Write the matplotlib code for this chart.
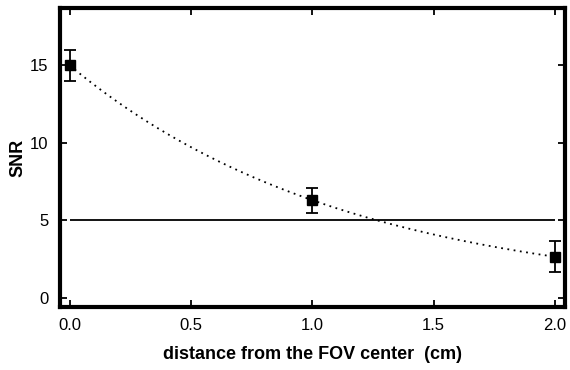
import numpy as np
import matplotlib.pyplot as plt

# measured points
distance = [0.0, 1.0, 2.0]
snr = [15.0, 6.3, 2.65]
snr_err = [1.0, 0.8, 1.0]
threshold = 5
xticks = [0.0, 0.5, 1.0, 1.5, 2.0]
yticks = [0, 5, 10, 15]

plt.rcParams['font.family'] = ['Liberation Sans', 'DejaVu Sans']

fig = plt.figure(figsize=(5.7, 3.7), dpi=100)
ax = fig.add_axes([0.105, 0.17, 0.886, 0.808])

# exponential fit to the points
k, b = np.polyfit(distance, np.log(snr), 1)
xf = np.linspace(0, 2, 200)
ax.plot(xf, np.exp(b + k * xf), color='black', linestyle=(0, (1, 2.5)), linewidth=1.3)

ax.hlines(threshold, 0, 2, color='black', linewidth=1.3)

ax.errorbar(distance, snr, yerr=snr_err, fmt='s', color='black', markersize=6.5,
            capsize=4, elinewidth=1.3, capthick=1.3)

ax.set_xlim(-0.041, 2.041)
ax.set_ylim(-0.6, 18.7)
ax.set_xticks(xticks)
ax.set_xticklabels(['%.1f' % t for t in xticks])
ax.set_yticks(yticks)

for s in ax.spines.values():
    s.set_linewidth(3)
ax.tick_params(direction='in', top=True, right=True, length=5, width=1.3,
               labelsize=12, pad=8)

ax.set_xlabel('distance from the FOV center  (cm)', fontsize=13, fontweight='bold', labelpad=9)
ax.set_ylabel('SNR', fontsize=13, fontweight='bold', labelpad=3)

fig.savefig('out.png', dpi=100)
